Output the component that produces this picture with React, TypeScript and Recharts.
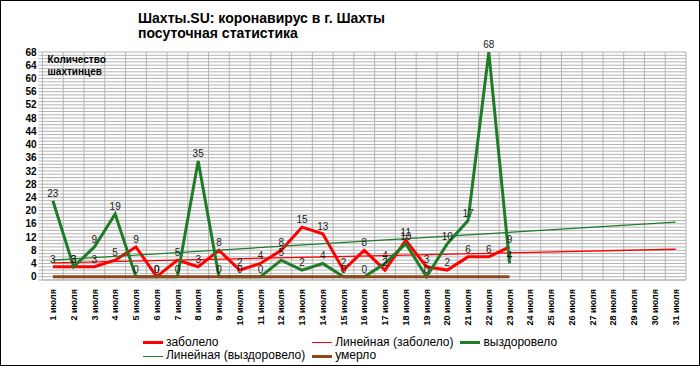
import React from 'react';
import { ComposedChart, Line, XAxis, YAxis, CartesianGrid, LabelList, ReferenceLine } from 'recharts';

// ---- data ----
const dayNumbers = [1, 2, 3, 4, 5, 6, 7, 8, 9, 10, 11, 12, 13, 14, 15, 16, 17, 18, 19, 20, 21, 22, 23, 24, 25, 26, 27, 28, 29, 30, 31];
const monthWord = 'июля';
const sick = [3, 3, 3, 5, 9, 0, 5, 3, 8, 2, 4, 8, 15, 13, 2, 8, 2, 11, 3, 2, 6, 6, 9];
const recovered = [23, 3, 9, 19, 0, 0, 0, 35, 0, 0, 0, 5, 2, 4, 0, 0, 4, 10, 0, 10, 17, 68, 4];
const died = [0, 0, 0, 0, 0, 0, 0, 0, 0, 0, 0, 0, 0, 0, 0, 0, 0, 0, 0, 0, 0, 0, 0];
// linear trend lines: values at first and last day
const sickTrendEnds = [4.2, 8.3];
const recoveredTrendEnds = [5.0, 16.5];
const yLabelTicks = [0, 4, 8, 12, 16, 20, 24, 28, 32, 36, 40, 44, 48, 52, 56, 60, 64, 68];
const yMin = -1;
const yMax = 68;

const title1 = 'Шахты.SU: коронавирус в г. Шахты';
const title2 = 'посуточная статистика';
const yTitle = ['Количество', 'шахтинцев'];

const RED = '#ff0000';
const GREEN = '#1e7b26';
const BROWN = '#8b4a1e';
const GRID = '#b3b3b3';
const FONT = '"Liberation Sans", Arial, sans-serif';

const lastDay = dayNumbers[dayNumbers.length - 1];
const data = dayNumbers.map((d, i) => ({
  day: d,
  sick: i < sick.length ? sick[i] : null,
  recovered: i < recovered.length ? recovered[i] : null,
  died: i < died.length ? died[i] : null,
  sickTrend: i === 0 ? sickTrendEnds[0] : i === dayNumbers.length - 1 ? sickTrendEnds[1] : null,
  recTrend: i === 0 ? recoveredTrendEnds[0] : i === dayNumbers.length - 1 ? recoveredTrendEnds[1] : null,
}));

const allYTicks: number[] = [];
for (let v = yMin; v <= yMax; v++) allYTicks.push(v);
const boundaries: number[] = [];
for (let b = 0.5; b <= lastDay + 0.5; b++) boundaries.push(b);

const legendItems = [
  { name: 'заболело', color: RED, w: 3 },
  { name: 'Линейная (заболело)', color: RED, w: 1 },
  { name: 'выздоровело', color: GREEN, w: 3 },
  { name: 'Линейная (выздоровело)', color: GREEN, w: 1 },
  { name: 'умерло', color: BROWN, w: 3 },
];

const DayTick = (props: any) => {
  const { x, y, payload } = props;
  return (
    <text
      x={x}
      y={y}
      transform={`rotate(-90 ${x} ${y})`}
      textAnchor="end"
      dy="0.35em"
      fontFamily={FONT}
      fontSize={9}
      fontWeight="bold"
      fill="#000"
    >
      {`${payload.value} ${monthWord}`}
    </text>
  );
};

const labelStyle = { fontSize: 10, fill: '#1a1a1a', fontFamily: FONT };

export default function App() {
  return (
    <div style={{ position: 'absolute', left: 0, top: 0, width: 700, height: 366, background: '#fff', overflow: 'hidden' }}>
      <ComposedChart
        width={700}
        height={366}
        data={data}
        margin={{ top: 52, right: 14, bottom: 36, left: 8 }}
      >
        <CartesianGrid vertical={false} stroke={GRID} strokeWidth={1} />
        {boundaries.map((b) => (
          <ReferenceLine key={b} x={b} stroke={GRID} strokeWidth={1} ifOverflow="extendDomain" />
        ))}
        <XAxis
          dataKey="day"
          type="number"
          domain={[0.5, lastDay + 0.5]}
          ticks={dayNumbers}
          interval={0}
          tick={<DayTick />}
          tickLine={false}
          tickSize={0}
          tickMargin={9}
          axisLine={{ stroke: GRID }}
          height={50}
          allowDataOverflow
        />
        <YAxis
          type="number"
          domain={[yMin, yMax]}
          ticks={allYTicks}
          interval={0}
          allowDataOverflow
          tickFormatter={(v: number) => (yLabelTicks.includes(v) ? String(v) : '')}
          tick={{ fontSize: 10, fontWeight: 'bold', fill: '#000', fontFamily: FONT }}
          tickLine={{ stroke: GRID }}
          tickSize={4}
          tickMargin={2}
          axisLine={{ stroke: GRID }}
          width={34.5}
        />
        <Line dataKey="sick" type="linear" stroke={RED} strokeWidth={3} dot={false} isAnimationActive={false}>
          <LabelList dataKey="sick" position="top" offset={4} style={labelStyle} />
        </Line>
        <Line dataKey="sickTrend" type="linear" stroke={RED} strokeWidth={1.3} dot={false} connectNulls isAnimationActive={false} />
        <Line dataKey="recovered" type="linear" stroke={GREEN} strokeWidth={3} dot={false} isAnimationActive={false}>
          <LabelList dataKey="recovered" position="top" offset={4} style={labelStyle} />
        </Line>
        <Line dataKey="recTrend" type="linear" stroke={GREEN} strokeWidth={1.2} dot={false} connectNulls isAnimationActive={false} />
        <Line dataKey="died" type="linear" stroke={BROWN} strokeWidth={3} dot={false} isAnimationActive={false} />
      </ComposedChart>

      <div style={{ position: 'absolute', left: 138, top: 10.5, fontFamily: FONT, fontSize: 14, fontWeight: 'bold', lineHeight: '15px', color: '#000', whiteSpace: 'nowrap' }}>
        <div>{title1}</div>
        <div>{title2}</div>
      </div>

      <div style={{ position: 'absolute', left: 47.5, top: 54, fontFamily: FONT, fontSize: 10, fontWeight: 'bold', lineHeight: '12px', color: '#000', whiteSpace: 'nowrap' }}>
        {yTitle.map((t) => (
          <div key={t}>{t}</div>
        ))}
      </div>

      <div
        style={{
          position: 'absolute',
          left: 0,
          top: 336,
          width: 700,
          display: 'grid',
          gridTemplateColumns: 'auto auto auto',
          justifyContent: 'center',
          columnGap: 7,
          fontFamily: FONT,
          fontSize: 12,
          lineHeight: '13.4px',
          color: '#000',
        }}
      >
        {legendItems.map((it) => (
          <div key={it.name} style={{ display: 'flex', alignItems: 'center', whiteSpace: 'nowrap' }}>
            <span style={{ display: 'inline-block', width: 20, height: it.w, background: it.color, marginRight: 3 }} />
            <span>{it.name}</span>
          </div>
        ))}
      </div>

      <div style={{ position: 'absolute', left: 0, top: 0, width: 700, height: 366, boxSizing: 'border-box', border: '1px solid #000', pointerEvents: 'none' }} />
    </div>
  );
}
